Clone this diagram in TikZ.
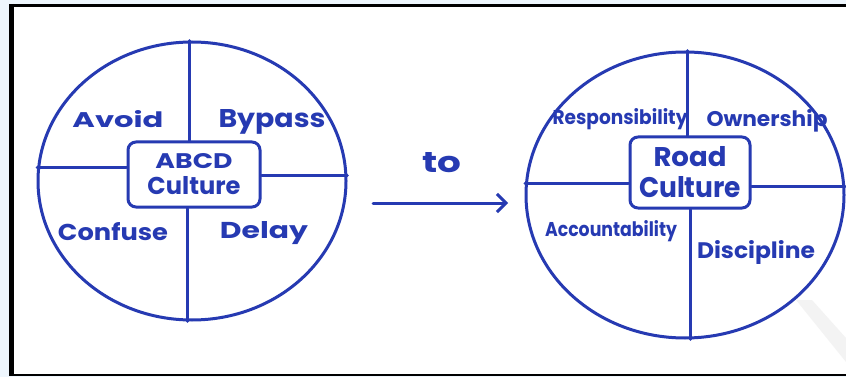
\documentclass[tikz,border=0pt]{standalone}
\usepackage{fontspec}
\setmainfont{Poppins}
\usepackage{graphicx}
\usetikzlibrary{shapes.geometric,arrows.meta}
\definecolor{ink}{RGB}{38,58,178}
\definecolor{haze}{RGB}{238,246,253}
\definecolor{faintgray}{RGB}{243,243,243}
% scale a word to a given width and height above the baseline
\newcommand\fitwh[3]{\resizebox{#1}{#2}{#3}}
\begin{document}
\begin{tikzpicture}[x=1pt,y=-1pt,
  pen/.style={draw=ink,line width=3pt,line cap=round,line join=round},
  wheel/.style={pen,ellipse,inner sep=0pt},
  hub/.style={pen,rounded corners=8pt,inner sep=0pt,align=center,text=ink,font=\bfseries},
  word/.style={text=ink,inner sep=0pt,anchor=base,font=\bfseries}]
\useasboundingbox (0,0) rectangle (846,377);
% page and frame
\fill[haze] (0,0) rectangle (846,377);
\fill[white] (11,5) rectangle (846,375);
\fill[faintgray] (796,300) -- (812,300) -- (846,338) -- (846,362) -- cycle;
\draw[black,line width=3pt] (10,5.5) -- (846,5.5);
\draw[black,line width=4.5pt] (11.5,4) -- (11.5,376);
\draw[black,line width=2pt] (10,375) -- (846,375);

% left wheel
\node[wheel,minimum width=308pt,minimum height=278pt] (lw) at (192,181) {};
\node[hub,minimum width=132pt,minimum height=65pt] (lb) at (194,174.5)
  {\fitwh{77pt}{15pt}{ABCD}\\[7pt]\fitwh{93pt}{18pt}{Culture}};
\draw[pen] (lw.91)  -- (lw.91 |- lb.north);
\draw[pen] (lw.268) -- (lw.268 |- lb.south);
\draw[pen] (lw.175) -- (lw.175 -| lb.west);
\draw[pen] (lw.2)   -- (lw.2 -| lb.east);
\node[word] (avoid)   at (118,128) {\fitwh{91pt}{17pt}{Avoid}};
\node[word] (bypass)  at (272,128) {\fitwh{107pt}{18pt}{Bypass}};
\node[word] (confuse) at (113,240) {\fitwh{110pt}{18pt}{Confuse}};
\node[word] (delay)   at (264,238) {\fitwh{88pt}{17pt}{Delay}};

% arrow between the wheels
\coordinate (as) at (373,203);
\coordinate (ae) at (508,203);
\draw[pen,-{Straight Barb[length=9pt,width=18pt,line width=3pt]}] (as) -- (ae);
\node[word] (to) at (442,173) {\fitwh{39pt}{20pt}{to}};

% right wheel
\node[wheel,minimum width=318pt,minimum height=286pt] (rw) at (685,195) {};
\node[hub,minimum width=120pt,minimum height=71pt] (rb) at (690,172.5)
  {\fitwh{73pt}{20pt}{Road}\\[9pt]\fitwh{102pt}{21pt}{Culture}};
\draw[pen] (rw.89)  -- (rw.89 |- rb.north);
\draw[pen] (rw.272) -- (rw.272 |- rb.south);
\draw[pen] (rw.176) -- (rw.176 -| rb.west);
\draw[pen] (rw.3)   -- (rw.3 -| rb.east);
\node[word] (resp) at (620,125) {\fitwh{135pt}{16pt}{Responsibility}};
\node[word] (own)  at (767,127) {\fitwh{121pt}{17pt}{Ownership}};
\node[word] (acc)  at (611,236) {\fitwh{132pt}{16pt}{Accountability}};
\node[word] (disc) at (756,258) {\fitwh{118pt}{18pt}{Discipline}};
\end{tikzpicture}
\end{document}
